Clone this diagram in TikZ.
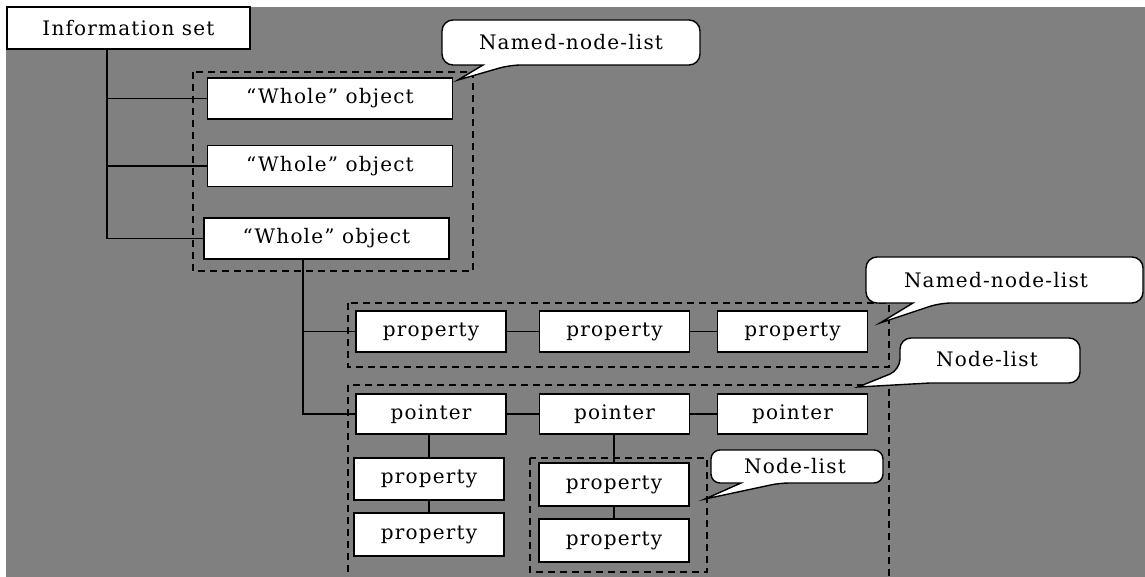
\documentclass[tikz,border=0pt]{standalone}
\usepackage{fontspec}
\setmainfont{DejaVu Serif}[LetterSpace=6]
\definecolor{canvas}{RGB}{128,128,128}

\begin{document}
\begin{tikzpicture}[
        x=1pt, y=-1pt,
        box/.style={draw, fill=white, line width=1.5pt, minimum width=150pt, minimum height=41pt, inner sep=0pt, font=\fontsize{20}{22}\selectfont},
        wide/.style={box, minimum width=245pt},
        group/.style={draw, line width=1.4pt, dash pattern=on 7pt off 5pt},
        line/.style={draw, line width=1.6pt},
        bubble/.style={draw, fill=white, line width=1.4pt, rounded corners=11pt},
        note/.style={inner sep=0pt, font=\fontsize{20}{22}\selectfont}
    ]
        \clip (0,0) rectangle (1145,577);
        \fill[white] (0,0) rectangle (1145,577);
        \fill[canvas] (6,7) rectangle (1145,577);

        % Dashed groups
        \draw[group] (193,72) rectangle (473,271);
        \draw[group] (348,303) rectangle (889,367);
        \draw[group] (348,385) rectangle (889,600);
        \draw[group] (530,458) rectangle (707,572);

        % Information set and whole objects
        \node[wide, minimum width=243pt, minimum height=42pt] (info) at (128.5,28) {Information set};
        \foreach \i/\x/\y in {1/330/98.5, 2/330/166, 3/326.5/238.5}
            \node[wide] (W\i) at (\x,\y) {“Whole” object};

        % Properties and pointers
        \foreach \i/\x in {1/431, 2/614.5, 3/792.5} {
            \node[box] (P\i) at (\x,331.5) {property};
            \node[box, minimum height=40pt] (Q\i) at (\x,414) {pointer};
        }
        \node[box, minimum height=42pt] (R1) at (429,479) {property};
        \node[box, minimum height=43pt] (R2) at (429,534.5) {property};
        \node[box, minimum height=43pt] (S1) at (614,484.5) {property};
        \node[box, minimum height=43pt] (S2) at (614,540.5) {property};

        % Connectors
        \coordinate (trunk) at (107,0);
        \coordinate (stem) at (303,0);
        \draw[line] (info.south -| trunk) |- (W3.west);
        \foreach \i in {1,2}
            \draw[line] (trunk |- W\i.west) -- (W\i.west);
        \draw[line] (W3.south -| stem) |- (Q1.west);
        \draw[line] (stem |- P1.west) -- (P1.west);
        \draw[line] (P1) -- (P2) -- (P3);
        \draw[line] (Q1) -- (Q2) -- (Q3);
        \draw[line] (R1.north |- Q1.south) -- (R1) -- (R2);
        \draw[line] (S1.north |- Q2.south) -- (S1) -- (S2);

        % Callouts
        \draw[bubble] (483,65) -- (442,65) -- (442,20) -- (700,20) -- (700,65) -- (510,65) [sharp corners] -- (458,80) -- cycle;
        \node[note] (N1) at (571,42.5) {Named-node-list};
        \draw[bubble] (913,303) -- (866,303) -- (866,257) -- (1143,257) -- (1143,303) -- (940,303) [sharp corners] -- (880,323) -- cycle;
        \node[note] (N2) at (996,280) {Named-node-list};
        \draw[bubble] (930,383) -- (1080,383) -- (1080,338) -- (900,338) -- (900,370) [sharp corners] -- (858,387) -- cycle;
        \node[note] (N3) at (987,359) {Node-list};
        \draw[bubble, rounded corners=9pt] (741,483) -- (711,483) -- (711,450) -- (883,450) -- (883,483) -- (780,483) [sharp corners] -- (705,499) -- cycle;
        \node[note] (N4) at (795,466.5) {Node-list};

    \end{tikzpicture}
\end{document}
